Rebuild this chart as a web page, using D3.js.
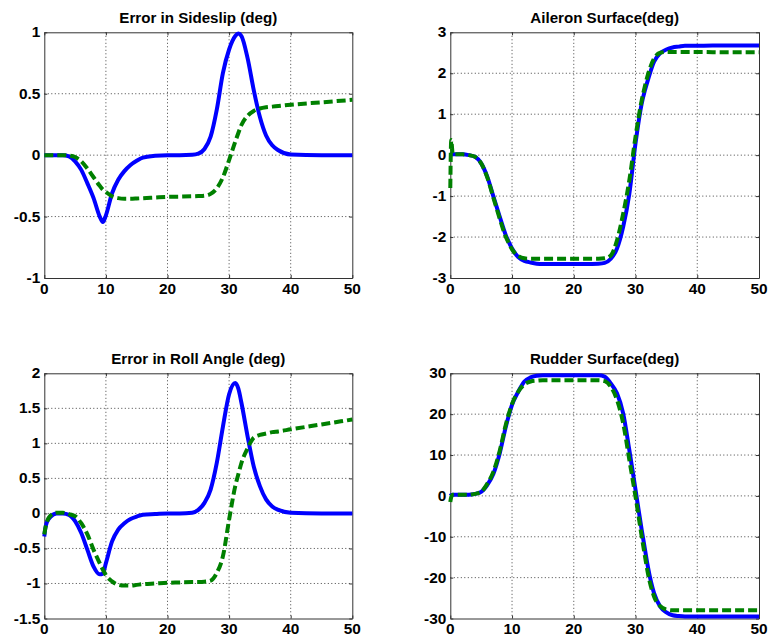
<!DOCTYPE html>
<html>
<head>
<meta charset="utf-8">
<script src="https://cdn.jsdelivr.net/npm/d3@7"></script>
<style>
  html, body { margin: 0; padding: 0; background: #fff; }
  svg { display: block; }
  text { font-family: "Liberation Sans", Arial, Helvetica, sans-serif; font-weight: bold; fill: #000; }
</style>
</head>
<body>
<svg id="chart" width="769" height="642"></svg>
<script>
// ---- data (time in s) ----
const time = [0, 0.15, 0.4, 1, 2, 3, 4, 5, 6, 7, 8, 9, 9.5, 10, 11, 12, 13, 14, 15, 16, 18, 20, 22, 24, 25, 26, 27, 28, 29, 30, 31, 31.5, 32, 33, 34, 35, 36, 37, 38, 40, 45, 50];

const sideslipBlue = [0, 0, 0, 0, 0, 0, -0.01, -0.05, -0.12, -0.23, -0.35, -0.5, -0.545, -0.49, -0.31, -0.2, -0.13, -0.08, -0.046, -0.02, -0.005, 0, 0, 0.003, 0.012, 0.05, 0.15, 0.37, 0.67, 0.86, 0.97, 0.99, 0.97, 0.79, 0.53, 0.31, 0.16, 0.08, 0.04, 0.005, 0, 0];
const sideslipGreen = [0, 0, 0, 0, 0, 0, -0.003, -0.015, -0.05, -0.11, -0.18, -0.25, -0.28, -0.30, -0.335, -0.35, -0.355, -0.355, -0.353, -0.35, -0.345, -0.34, -0.338, -0.335, -0.333, -0.33, -0.315, -0.27, -0.18, -0.04, 0.11, 0.18, 0.245, 0.32, 0.36, 0.38, 0.39, 0.395, 0.40, 0.41, 0.43, 0.45];

const aileronBlue = [0.02, 0.02, 0.02, 0.02, 0.02, 0.0, -0.04, -0.2, -0.53, -1.02, -1.5, -1.96, -2.13, -2.28, -2.49, -2.58, -2.62, -2.65, -2.66, -2.66, -2.66, -2.66, -2.66, -2.65, -2.63, -2.53, -2.28, -1.75, -0.94, 0.29, 1.26, 1.57, 1.83, 2.28, 2.49, 2.58, 2.63, 2.65, 2.67, 2.67, 2.68, 2.68];
const aileronGreen = [-0.8, 0.37, 0.02, 0.02, 0.02, 0.0, -0.04, -0.2, -0.55, -1.05, -1.55, -2.0, -2.16, -2.3, -2.46, -2.52, -2.53, -2.53, -2.53, -2.53, -2.53, -2.53, -2.53, -2.53, -2.52, -2.45, -2.08, -1.43, -0.61, 0.45, 1.34, 1.67, 1.96, 2.36, 2.50, 2.52, 2.52, 2.52, 2.52, 2.52, 2.51, 2.51];

const rollBlue = [-0.33, -0.22, -0.13, -0.05, 0.0, 0.0, -0.02, -0.11, -0.28, -0.52, -0.76, -0.87, -0.86, -0.71, -0.40, -0.23, -0.14, -0.08, -0.045, -0.02, -0.01, 0, 0, 0.01, 0.05, 0.15, 0.34, 0.72, 1.24, 1.70, 1.86, 1.78, 1.58, 1.10, 0.67, 0.39, 0.20, 0.10, 0.05, 0.01, 0, 0];
const rollGreen = [-0.3, -0.22, -0.13, -0.03, 0.01, 0.01, -0.01, -0.04, -0.14, -0.30, -0.52, -0.71, -0.80, -0.88, -0.97, -1.02, -1.03, -1.03, -1.02, -1.01, -1.0, -0.99, -0.985, -0.98, -0.98, -0.975, -0.96, -0.85, -0.61, -0.09, 0.39, 0.56, 0.72, 0.93, 1.08, 1.12, 1.14, 1.16, 1.17, 1.20, 1.27, 1.34];

const rudderBlue = [0, 0.2, 0.3, 0.3, 0.3, 0.3, 0.5, 1.0, 2.7, 5.5, 10.4, 17, 19.8, 22.3, 25.5, 28, 29, 29.4, 29.5, 29.5, 29.5, 29.5, 29.5, 29.5, 29.2, 27.5, 25.1, 20.2, 11.2, 1.5, -8.3, -12.8, -17.3, -23.8, -27.1, -28.5, -29.2, -29.4, -29.5, -29.5, -29.5, -29.5];
const rudderGreen = [-1.5, -0.3, 0.3, 0.3, 0.3, 0.3, 0.5, 1.0, 3.0, 6.0, 11, 17.5, 20.2, 22.5, 25.5, 27.3, 28.0, 28.2, 28.3, 28.3, 28.3, 28.3, 28.3, 28.3, 28.1, 26.7, 23.5, 17.8, 8.8, -0.2, -9.9, -14.5, -18.9, -24.6, -27.0, -27.8, -28.0, -28.0, -28.0, -28.0, -28.0, -28.0];

const titles = ["Error in Sideslip (deg)", "Aileron Surface(deg)", "Error in Roll Angle (deg)", "Rudder Surface(deg)"];
const xTicks = [0, 10, 20, 30, 40, 50];
const yTicksSideslip = [-1, -0.5, 0, 0.5, 1];
const yTicksAileron = [-3, -2, -1, 0, 1, 2, 3];
const yTicksRoll = [-1.5, -1, -0.5, 0, 0.5, 1, 1.5, 2];
const yTicksRudder = [-30, -20, -10, 0, 10, 20, 30];

// ---- layout ----
const boxes = [
  { l: 44.3, r: 352.3, t: 32.3, b: 278 },
  { l: 450.3, r: 759, t: 32.3, b: 278 },
  { l: 44.3, r: 352.3, t: 373.3, b: 618.5 },
  { l: 450.3, r: 759, t: 373.3, b: 618.5 }
];
const panels = [
  { title: titles[0], blue: sideslipBlue, green: sideslipGreen, yTicks: yTicksSideslip },
  { title: titles[1], blue: aileronBlue, green: aileronGreen, yTicks: yTicksAileron },
  { title: titles[2], blue: rollBlue, green: rollGreen, yTicks: yTicksRoll },
  { title: titles[3], blue: rudderBlue, green: rudderGreen, yTicks: yTicksRudder }
];

const svg = d3.select("#chart");
const fmt = d => String(d).replace("-", "-");
const SX = 1.1; // horizontal stretch of the fonts in the reference

panels.forEach((p, i) => {
  const bx = boxes[i];
  const x = d3.scaleLinear().domain([0, 50]).range([bx.l, bx.r]);
  const yd = d3.extent(p.yTicks);
  const y = d3.scaleLinear().domain(yd).range([bx.b, bx.t]);
  const g = svg.append("g");

  // grid
  g.append("g").selectAll("line.gx").data(xTicks.slice(1, -1)).join("line")
    .attr("x1", d => x(d)).attr("x2", d => x(d)).attr("y1", bx.t).attr("y2", bx.b)
    .attr("stroke", "#444").attr("stroke-width", 1).attr("stroke-dasharray", "1,2.5");
  g.append("g").selectAll("line.gy").data(p.yTicks.slice(1, -1)).join("line")
    .attr("y1", d => y(d)).attr("y2", d => y(d)).attr("x1", bx.l).attr("x2", bx.r)
    .attr("stroke", "#444").attr("stroke-width", 1).attr("stroke-dasharray", "1,2.5");

  // axes via d3 axes (ticks inside)
  const xAxisB = d3.axisBottom(x).tickValues(xTicks).tickSizeInner(-3).tickSizeOuter(0).tickFormat("");
  const xAxisT = d3.axisTop(x).tickValues(xTicks).tickSizeInner(-3).tickSizeOuter(0).tickFormat("");
  const yAxisL = d3.axisLeft(y).tickValues(p.yTicks).tickSizeInner(-3).tickSizeOuter(0).tickFormat("");
  const yAxisR = d3.axisRight(y).tickValues(p.yTicks).tickSizeInner(-3).tickSizeOuter(0).tickFormat("");
  [[xAxisB, `translate(0,${bx.b})`], [xAxisT, `translate(0,${bx.t})`],
   [yAxisL, `translate(${bx.l},0)`], [yAxisR, `translate(${bx.r},0)`]].forEach(([ax, tr]) => {
    const a = g.append("g").attr("transform", tr).call(ax);
    a.selectAll("path,line").attr("stroke", "#333").attr("stroke-width", 1);
  });

  // tick labels
  g.append("g").selectAll("g").data(xTicks).join("g")
    .attr("transform", d => `translate(${x(d)},${bx.b + 15.5}) scale(${SX},1)`)
    .append("text").attr("text-anchor", "middle").attr("font-size", 14).text(d => fmt(d));
  g.append("g").selectAll("g").data(p.yTicks).join("g")
    .attr("transform", d => `translate(${bx.l - 4},${y(d) + 5}) scale(${SX},1)`)
    .append("text").attr("text-anchor", "end").attr("font-size", 14).text(d => fmt(d));

  // title
  g.append("g").attr("transform", `translate(${(bx.l + bx.r) / 2},${bx.t - 9.5}) scale(1.08,1)`)
    .append("text").attr("text-anchor", "middle").attr("font-size", 14).text(p.title);

  // lines
  const line = d3.line().x(d => x(d[0])).y(d => y(d[1])).curve(d3.curveMonotoneX);
  g.append("path").datum(time.map((t, k) => [t, p.blue[k]]))
    .attr("d", line).attr("fill", "none").attr("stroke", "#0000ff")
    .attr("stroke-width", 4).attr("stroke-linejoin", "round");
  g.append("path").datum(time.map((t, k) => [t, p.green[k]]))
    .attr("d", line).attr("fill", "none").attr("stroke", "#008000")
    .attr("stroke-width", 4).attr("stroke-dasharray", "9,4");
});
</script>
</body>
</html>
